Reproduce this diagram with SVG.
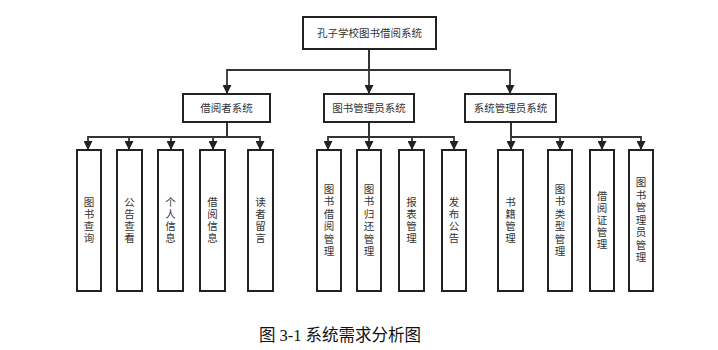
<svg xmlns="http://www.w3.org/2000/svg" width="718" height="350" viewBox="0 0 718 350">
<style>
.box{fill:#fff;stroke:#222;stroke-width:2}
.t{font-family:"Noto Sans CJK SC","Noto Sans",sans-serif;font-size:10.5px;fill:#333;text-anchor:middle}
.v{font-family:"Noto Sans CJK SC","Noto Sans",sans-serif;font-size:10.5px;fill:#333;text-anchor:middle;writing-mode:vertical-rl;letter-spacing:1.5px}
.v6{letter-spacing:2px}
.c{fill:none;stroke:#333;stroke-width:1.8;marker-end:url(#a)}
.cap{font-family:"Liberation Serif","Noto Sans CJK SC",serif;font-size:16.5px;fill:#111;text-anchor:middle}
</style>
<defs>
<marker id="a" markerWidth="9" markerHeight="9" refX="9" refY="4.5" orient="auto" markerUnits="userSpaceOnUse">
<path d="M0,0 L9,4.5 L0,9 z" fill="#222"/>
</marker>
</defs>
<rect width="718" height="350" fill="#fff"/>
<g id="connectors">
<path class="c" d="M369,49 V70 H227 V94"/>
<path class="c" d="M369,49 V94"/>
<path class="c" d="M369,49 V70 H510 V94"/>
<path class="c" d="M227,122 V137 H88 V150"/>
<path class="c" d="M227,122 V137 H129 V150"/>
<path class="c" d="M227,122 V137 H171 V150"/>
<path class="c" d="M227,122 V137 H213 V150"/>
<path class="c" d="M227,122 V137 H260 V150"/>
<path class="c" d="M369,122 V137 H328 V150"/>
<path class="c" d="M369,122 V150"/>
<path class="c" d="M369,122 V137 H412 V150"/>
<path class="c" d="M369,122 V137 H454 V150"/>
<path class="c" d="M511,122 V150"/>
<path class="c" d="M511,122 V137 H560 V150"/>
<path class="c" d="M511,122 V137 H602 V150"/>
<path class="c" d="M511,122 V137 H641 V150"/>
</g>
<g id="root"><rect class="box" x="303" y="17" width="133" height="32"/><text class="t" x="369.5" y="37">孔子学校图书借阅系统</text></g>
<g id="borrower"><rect class="box" x="183" y="94" width="87" height="28"/><text class="t" x="226.5" y="112">借阅者系统</text></g>
<g id="librarian"><rect class="box" x="324" y="94" width="90" height="28"/><text class="t" x="369" y="112">图书管理员系统</text></g>
<g id="sysadmin"><rect class="box" x="465" y="94" width="91" height="28"/><text class="t" x="510.5" y="112">系统管理员系统</text></g>

<g id="n1"><rect class="box" x="77" y="150" width="24" height="141"/><text class="v" x="89" y="221">图书查询</text></g>
<g id="n2"><rect class="box" x="117" y="150" width="25" height="141"/><text class="v" x="129.5" y="221">公告查看</text></g>
<g id="n3"><rect class="box" x="158" y="150" width="25" height="141"/><text class="v" x="170.5" y="221">个人信息</text></g>
<g id="n4"><rect class="box" x="200" y="150" width="25" height="141"/><text class="v" x="212.5" y="221">借阅信息</text></g>
<g id="n5"><rect class="box" x="248" y="150" width="25" height="141"/><text class="v" x="260.5" y="221">读者留言</text></g>

<g id="n6"><rect class="box" x="317" y="150" width="24" height="141"/><text class="v v6" x="329" y="221">图书借阅管理</text></g>
<g id="n7"><rect class="box" x="357" y="150" width="24" height="141"/><text class="v v6" x="369" y="221">图书归还管理</text></g>
<g id="n8"><rect class="box" x="399" y="150" width="25" height="141"/><text class="v" x="411.5" y="221">报表管理</text></g>
<g id="n9"><rect class="box" x="442" y="150" width="24" height="141"/><text class="v" x="454" y="221">发布公告</text></g>

<g id="n10"><rect class="box" x="498" y="150" width="25" height="141"/><text class="v" x="510.5" y="221">书籍管理</text></g>
<g id="n11"><rect class="box" x="548" y="150" width="24" height="141"/><text class="v v6" x="560" y="221">图书类型管理</text></g>
<g id="n12"><rect class="box" x="590" y="150" width="24" height="141"/><text class="v" x="602" y="221">借阅证管理</text></g>
<g id="n13"><rect class="box" x="629" y="150" width="24" height="141"/><text class="v v6" x="641" y="221">图书管理员管理</text></g>

<text class="cap" x="340" y="341">图 3-1 系统需求分析图</text>
</svg>
